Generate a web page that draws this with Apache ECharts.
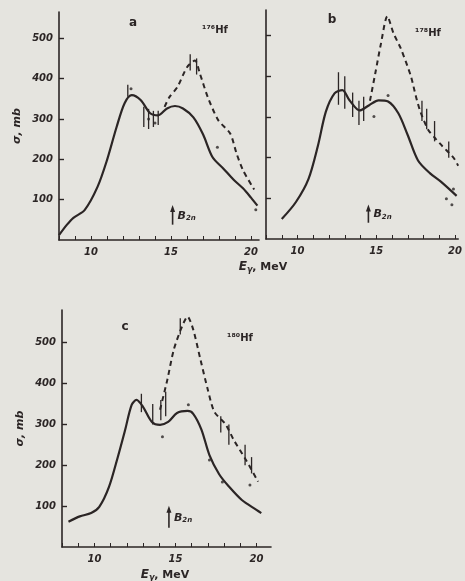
<!DOCTYPE html>
<html>
<head>
<meta charset="utf-8">
<script src="https://cdn.jsdelivr.net/npm/echarts@6/dist/echarts.min.js"></script>
<style>
html,body{margin:0;padding:0;background:#e5e4df;}
#main{width:465px;height:581px;}
</style>
</head>
<body>
<div id="main"></div>
<script>
// values: [E (MeV), sigma (mb)]
var aSolid = [[8.0,12],[8.5,38],[8.9,55],[9.6,74],[10.4,131],[11.0,198],[11.6,280],[12.1,339],[12.55,359],[13.1,347],[13.7,314],[14.2,309],[14.75,326],[15.25,332],[15.75,326],[16.4,304],[17.0,262],[17.6,205],[18.25,178],[18.9,150],[19.5,128],[20.0,105],[20.4,85]];
var aDashed = [[14.6,330],[14.9,354],[15.4,379],[16.0,428],[16.5,445],[16.8,413],[17.3,354],[17.95,297],[18.7,264],[19.1,214],[19.5,173],[20.2,125]];
var aPoints = [[12.5,375],[13.6,300],[14.0,290],[17.9,230],[20.3,75]];
// error bars: [E, low, high]
var aErrors = [[12.3,355,385],[13.3,280,330],[13.6,275,325],[13.9,280,320],[14.2,285,320],[16.2,420,460],[16.6,410,450]];

var bSolid = [[9.0,49],[9.9,91],[10.7,148],[11.3,230],[11.8,313],[12.35,358],[12.85,366],[13.3,341],[13.95,316],[14.55,329],[15.15,341],[15.75,338],[16.4,309],[17.0,255],[17.65,193],[18.4,162],[19.1,141],[20.1,106]];
var bDashed = [[14.6,340],[14.95,410],[15.3,481],[15.7,548],[16.1,505],[16.55,469],[17.2,400],[17.5,353],[17.8,313],[18.3,268],[18.8,245],[19.2,228],[19.9,200],[20.2,180]];
var bPoints = [[14.85,301],[15.75,353],[19.45,99],[19.8,84],[19.9,123]];
var bErrors = [[12.6,330,410],[13.0,320,400],[13.5,300,360],[13.9,280,340],[14.2,290,350],[17.9,290,340],[18.2,270,320],[18.7,240,290],[19.6,200,240]];

var cSolid = [[8.4,62],[9.1,75],[9.8,83],[10.3,98],[10.9,147],[11.45,221],[11.9,287],[12.3,348],[12.6,360],[13.0,343],[13.55,306],[14.05,299],[14.55,306],[15.1,328],[15.75,333],[16.1,326],[16.6,288],[17.1,225],[17.7,178],[18.3,148],[19.1,115],[20.0,91],[20.3,83]];
var cDashed = [[14.05,336],[14.5,409],[14.9,483],[15.4,539],[15.75,564],[16.1,532],[16.55,458],[17.0,385],[17.4,331],[18.1,300],[18.6,262],[19.4,210],[20.1,160]];
var cPoints = [[14.2,270],[15.8,348],[17.1,213],[17.9,159],[19.6,152]];
var cErrors = [[12.9,330,375],[13.6,300,350],[14.1,310,360],[14.4,320,380],[15.3,520,560],[17.8,280,320],[18.3,250,300],[19.3,200,250],[19.7,180,220]];

var xTickValues = [8,9,10,11,12,13,14,15,16,17,18,19,20];
var xLabelValues = [10,15,20];
var yTickValues = [100,200,300,400,500];
// B2n threshold marker: [E, arrow foot, arrow tip]
var aB2n = [[15.1,38,82]];
var bB2n = [[14.5,40,80]];
var cB2n = [[14.6,47,96]];
var isotopes = ['¹⁷⁶Hf','¹⁷⁸Hf','¹⁸⁰Hf'];
var panelNames = ['a','b','c'];

var ink = '#2b2525';
var labelFont = {fontFamily:'DejaVu Sans',fontStyle:'italic',fontWeight:'bold',fontSize:10,color:ink};

function makeX(idx,max){
    return {
        type:'value', gridIndex:idx, min:8, max:max,
        axisLine:{show:true,onZero:false,lineStyle:{color:ink,width:1.6}},
        axisTick:{show:true,inside:true,length:4,customValues:xTickValues,lineStyle:{color:ink}},
        axisLabel:Object.assign({customValues:xLabelValues,margin:7},labelFont),
        splitLine:{show:false}
    };
}
function makeY(idx,max,withLabels){
    return {
        type:'value', gridIndex:idx, min:0, max:max,
        name: withLabels ? 'σ, mb' : '',
        nameLocation:'middle', nameRotate:90, nameGap:36,
        nameTextStyle:{fontFamily:'DejaVu Sans',fontStyle:'italic',fontWeight:'bold',fontSize:11,color:ink},
        axisLine:{show:true,onZero:false,lineStyle:{color:ink,width:1.6}},
        axisTick:{show:true,inside:true,length:5,customValues:yTickValues,lineStyle:{color:ink,width:1.4}},
        axisLabel:Object.assign({show:withLabels,customValues:yTickValues,margin:6},labelFont),
        splitLine:{show:false}
    };
}
function renderError(params,api){
    var hi = api.coord([api.value(0),api.value(2)]);
    var lo = api.coord([api.value(0),api.value(1)]);
    return {type:'line',shape:{x1:hi[0],y1:hi[1],x2:lo[0],y2:lo[1]},style:{stroke:ink,lineWidth:1.3}};
}
function renderArrow(params,api){
    var tip = api.coord([api.value(0),api.value(2)]);
    var foot = api.coord([api.value(0),api.value(1)]);
    return {type:'group',children:[
        {type:'line',shape:{x1:tip[0],y1:tip[1]+3,x2:foot[0],y2:foot[1]},style:{stroke:ink,lineWidth:1.6}},
        {type:'polygon',shape:{points:[[tip[0],tip[1]-2],[tip[0]-2.5,tip[1]+5],[tip[0]+2.5,tip[1]+5]]},style:{fill:ink}},
        {type:'text',x:tip[0]+5,y:(tip[1]+foot[1])/2,
         style:{text:'{b|B}{s|2n}',verticalAlign:'middle',
            rich:{b:{fontFamily:'DejaVu Sans',fontStyle:'italic',fontWeight:'bold',fontSize:11,fill:ink},
                  s:{fontFamily:'DejaVu Sans',fontStyle:'italic',fontWeight:'bold',fontSize:7,fill:ink,padding:[5,0,0,0]}}}}
    ]};
}
function makeSeries(idx,solid,dashed,points,errors,b2n){
    return [
        {type:'line',xAxisIndex:idx,yAxisIndex:idx,data:solid,smooth:0.3,showSymbol:false,
         lineStyle:{color:ink,width:2.2}},
        {type:'line',xAxisIndex:idx,yAxisIndex:idx,data:dashed,smooth:0.25,showSymbol:false,
         lineStyle:{color:ink,width:2,type:[5,4]}},
        {type:'scatter',xAxisIndex:idx,yAxisIndex:idx,data:points,symbolSize:3,
         itemStyle:{color:ink}},
        {type:'custom',xAxisIndex:idx,yAxisIndex:idx,data:errors,renderItem:renderError},
        {type:'custom',xAxisIndex:idx,yAxisIndex:idx,data:b2n,renderItem:renderArrow}
    ];
}

var myChart = echarts.init(document.getElementById('main'));

var eStyle = {
    rich:{
        e:{fontFamily:'DejaVu Sans',fontStyle:'italic',fontWeight:'bold',fontSize:12,fill:ink},
        g:{fontFamily:'DejaVu Sans',fontStyle:'italic',fontWeight:'bold',fontSize:8,fill:ink,padding:[6,0,0,0]},
        t:{fontFamily:'DejaVu Sans',fontWeight:'bold',fontSize:11,fill:ink}
    }
};
function eLabel(x,y){
    return {type:'text',x:x,y:y,style:Object.assign({text:'{e|E}{g|γ}{t|, MeV}',align:'center',verticalAlign:'middle'},eStyle)};
}
var graphics = [];
var letterPos = [[133,23],[332,20],[125,327]];
var isoPos = [[215,30],[428,33],[240,338]];
for(var i=0;i<3;i++){
    graphics.push({type:'text',x:letterPos[i][0],y:letterPos[i][1],
        style:{text:panelNames[i],fontFamily:'DejaVu Sans',fontWeight:'bold',fontSize:12,fill:ink,align:'center',verticalAlign:'middle'}});
    graphics.push({type:'text',x:isoPos[i][0],y:isoPos[i][1],
        style:{text:isotopes[i],fontFamily:'DejaVu Sans',fontWeight:'bold',fontSize:10,fill:ink,align:'center',verticalAlign:'middle'}});
}
graphics.push(eLabel(263,267));
graphics.push(eLabel(165,575));

var option = {
    backgroundColor:'#e5e4df',
    animation:false,
    grid:[
        {left:59,top:12,width:200,height:228},
        {left:266,top:10,width:199,height:229},
        {left:62,top:310,width:209,height:237}
    ],
    xAxis:[makeX(0,20.5),makeX(1,20.2),makeX(2,20.9)],
    yAxis:[makeY(0,565,true),makeY(1,563,false),makeY(2,580,true)],
    series:[].concat(makeSeries(0,aSolid,aDashed,aPoints,aErrors,aB2n),
                     makeSeries(1,bSolid,bDashed,bPoints,bErrors,bB2n),
                     makeSeries(2,cSolid,cDashed,cPoints,cErrors,cB2n)),
    graphic:graphics
};
myChart.setOption(option);
</script>
</body>
</html>
